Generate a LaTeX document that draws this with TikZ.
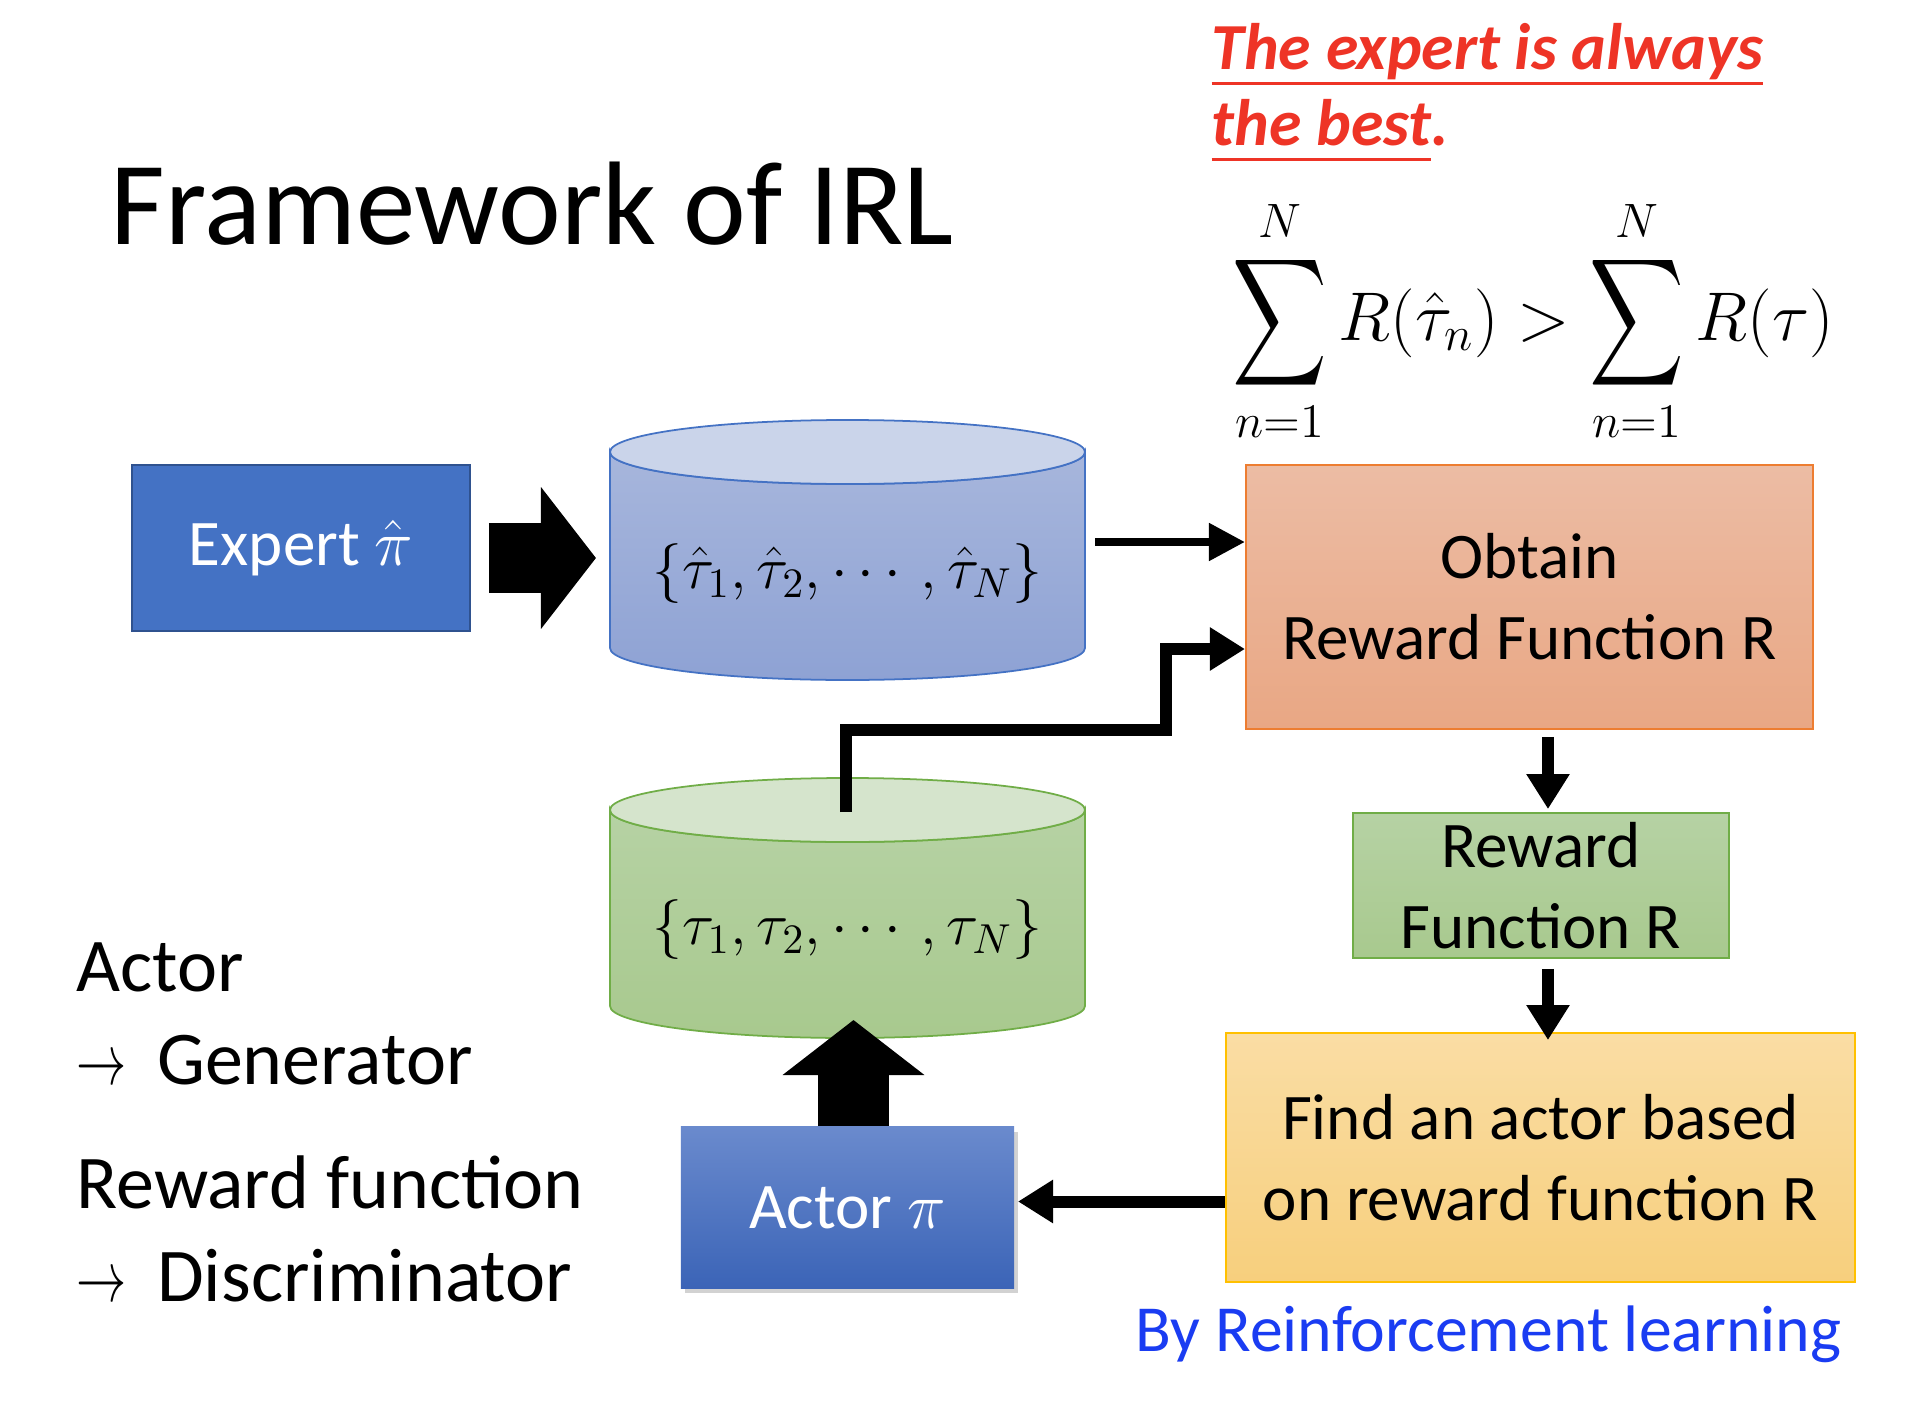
\RequirePackage{fix-cm}
\documentclass[tikz,border=0pt]{standalone}
\usepackage{amsmath}
\usepackage{graphicx}
\usepackage{fontspec}
\setmainfont{Carlito}
\usetikzlibrary{arrows.meta,calc,shadows}

\definecolor{expertfill}{HTML}{4472C4}
\definecolor{expertrim}{HTML}{2F528F}
\definecolor{bluelid}{HTML}{CAD4EA}
\definecolor{bluetop}{HTML}{A7B6DC}
\definecolor{bluebot}{HTML}{8EA2D4}
\definecolor{greenlid}{HTML}{D5E4CC}
\definecolor{greentop}{HTML}{B6D2A4}
\definecolor{greenbot}{HTML}{A8C98E}
\definecolor{greenrim}{HTML}{70AD47}
\definecolor{salmontop}{HTML}{ECBCA4}
\definecolor{salmonbot}{HTML}{E9A784}
\definecolor{salmonrim}{HTML}{ED7D31}
\definecolor{goldtop}{HTML}{FADDA4}
\definecolor{goldbot}{HTML}{F7CF7D}
\definecolor{goldrim}{HTML}{FFC000}
\definecolor{actortop}{HTML}{6A8ACD}
\definecolor{actorbot}{HTML}{3B64B7}
\definecolor{claimred}{HTML}{EE3426}
\definecolor{rlblue}{HTML}{1A3CF2}

\newcommand{\boxfont}{\fontsize{18.5}{23}\selectfont}
\newcommand{\sidefont}{\fontsize{21.6}{26}\selectfont}
\newcommand{\bigsum}{\mathop{\vcenter{\hbox{\scalebox{0.9}[1.22]{$\displaystyle\sum$}}}}\limits}
\newcommand{\claimline}[1]{\setbox0\hbox{#1}\rlap{\rule[-4.2pt]{\wd0}{0.9pt}}\box0}
\newcommand{\becomes}{\scalebox{0.66}[0.95]{$\rightarrow$}\hspace{0.4em}}

% cylinder: name, cx, cy, lid, body top, body bottom, rim
\newcommand{\drum}[7]{%
  \shadedraw[top color=#5, bottom color=#6, draw=#7, line width=0.5pt]
    ({#2-237.5},{#3-98}) -- ({#2-237.5},{#3+98})
    arc[start angle=180, end angle=0, x radius=237.5, y radius=32]
    -- ({#2+237.5},{#3-98})
    arc[start angle=0, end angle=180, x radius=237.5, y radius=32] -- cycle;
  \filldraw[fill=#4, draw=#7, line width=0.5pt] (#2,{#3-98}) ellipse [x radius=237.5, y radius=32];
  \coordinate (#1) at (#2,#3);
  \coordinate (#1-west) at ({#2-237.5},#3);
  \coordinate (#1-east) at ({#2+237.5},#3);
  \coordinate (#1-north) at (#2,{#3-130});
  \coordinate (#1-south) at (#2,{#3+130});%
}

\begin{document}
\begin{tikzpicture}[x=0.01cm, y=-0.01cm,
    box/.style={align=center, inner sep=0pt, font=\boxfont, line width=0.5pt},
    note/.style={anchor=base west, inner sep=0pt},
    blockarrow/.style={line width=0.7cm, -{Triangle[length=0.55cm, width=1.39cm]}},
    midarrow/.style={line width=0.08cm, -{Triangle[length=0.36cm, width=0.36cm]}},
    linkarrow/.style={line width=0.12cm, -{Triangle[length=0.35cm, width=0.41cm]}}]
    \fill[white] (0,0) rectangle (1914,1406);

    \node[note, font=\fontsize{33.8}{40}\selectfont] (title) at (110,244) {Framework of IRL};

    \node[note, text=claimred, font=\fontsize{18.7}{22}\selectfont\bfseries\itshape] (claimA) at (1211,70) {\claimline{The expert is always}};
    \node[note, text=claimred, font=\fontsize{18.7}{22}\selectfont\bfseries\itshape] (claimB) at (1211,146) {\claimline{the best}.};
    \node[inner sep=0pt, font=\fontsize{19.6}{23}\selectfont] (ineq) at (1533,321) {$\bigsum_{n=1}^{N} R(\hat{\tau}_n) > \bigsum_{n=1}^{N} R(\tau)$};

    % boxes
    \node[box, fill=expertfill, draw=expertrim, text=white, minimum width=3.38cm, minimum height=1.66cm] (expert) at (301,548) {Expert $\hat{\pi}$};
    \node[box, top color=salmontop, bottom color=salmonbot, draw=salmonrim, minimum width=5.67cm, minimum height=2.64cm] (obtain) at (1529.5,597) {Obtain\\Reward Function R};
    \node[box, top color=greentop, bottom color=greenbot, draw=greenrim, minimum width=3.76cm, minimum height=1.45cm] (reward) at (1541,885.5) {Reward\\Function R};
    \node[box, top color=goldtop, bottom color=goldbot, draw=goldrim, minimum width=6.29cm, minimum height=2.49cm] (find) at (1540.5,1157.5) {Find an actor based\\on reward function R};
    \node[box, top color=actortop, bottom color=actorbot, text=white, minimum width=3.33cm, minimum height=1.61cm,
          drop shadow={shadow xshift=0.04cm, shadow yshift=-0.05cm, opacity=0.35}] (actor) at (847.5,1207.5) {Actor $\pi$};

    % trajectories
    \drum{expdata}{847.5}{550}{bluelid}{bluetop}{bluebot}{expertfill}
    \node[inner sep=0pt, font=\fontsize{17}{20}\selectfont] (exptraj) at (847.5,574) {$\{\hat{\tau}_1,\hat{\tau}_2,\cdots,\hat{\tau}_N\}$};
    \drum{gendata}{847.5}{908}{greenlid}{greentop}{greenbot}{greenrim}
    \node[inner sep=0pt, font=\fontsize{17}{20}\selectfont] (gentraj) at (847.5,930) {$\{\tau_1,\tau_2,\cdots,\tau_N\}$};

    % arrows
    \draw[blockarrow] ($(expert.east)+(18,10)$) -- ($(expdata-west)+(-14,8)$);
    \draw[blockarrow] ($(actor.north)+(6,0)$) -- ($(gendata-south)+(6,-18)$);
    \draw[midarrow] ($(expdata-east)+(10,-8)$) -- ($(obtain.west)+(0,-55)$);
    \coordinate (turn) at (1166,730);
    \draw[linkarrow] ($(gendata-north)+(-1.5,34)$) |- (turn) |- ($(obtain.west)+(0,52)$);
    \draw[linkarrow] ($(obtain.south -| reward.north)+(7,7)$) -- ($(reward.north)+(7,-3)$);
    \draw[linkarrow] ($(reward.south)+(7,10)$) -- ($(find.north -| reward.south)+(7,8)$);
    \draw[linkarrow] ($(find.west |- actor.east)+(0,-6)$) -- ($(actor.east)+(3,-6)$);

    % side notes
    \node[note, font=\sidefont] (actorlbl) at (76,991) {Actor};
    \node[note, font=\sidefont] (genlbl) at (76,1084) {\becomes Generator};
    \node[note, font=\sidefont] (rewlbl) at (76,1208) {Reward function};
    \node[note, font=\sidefont] (disclbl) at (76,1301) {\becomes Discriminator};
    \node[note, text=rlblue, font=\fontsize{18.7}{22}\selectfont] (rllbl) at (1135,1351) {By Reinforcement learning};
\end{tikzpicture}
\end{document}
